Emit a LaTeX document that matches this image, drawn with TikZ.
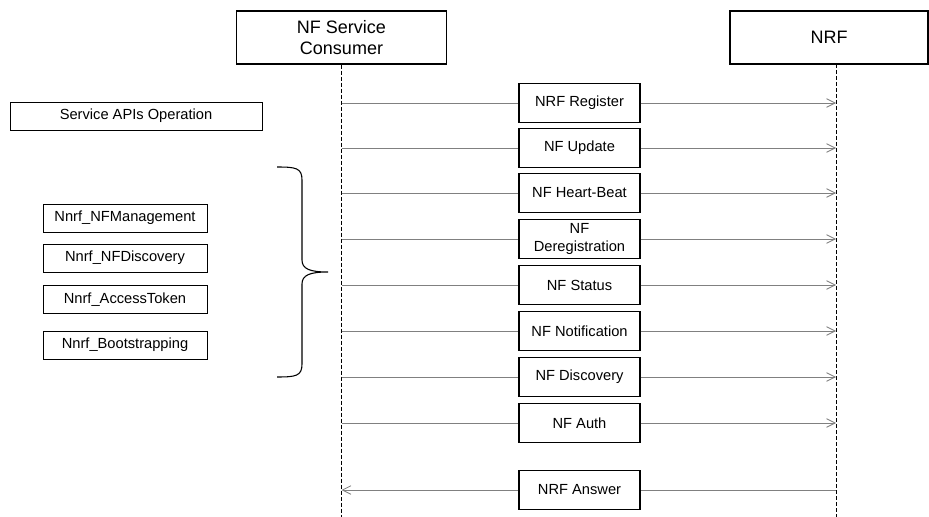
\documentclass[tikz,border=0pt]{standalone}
\usepackage{fontspec}
\setmainfont{Liberation Sans}
\usetikzlibrary{arrows.meta,positioning}

\begin{document}
\begin{tikzpicture}[x=0.75pt,y=-0.75pt,
    actor/.style={draw, line width=0.9pt, minimum width=158pt, minimum height=39.75pt,
      align=center, inner sep=2pt, font=\fontsize{13.5}{15.5}\selectfont},
    msgbox/.style={draw, line width=0.9pt, fill=white, minimum width=90.75pt, minimum height=29.5pt,
      align=center, inner sep=1pt, font=\fontsize{11}{13.5}\selectfont},
    apibox/.style={draw, line width=0.7pt, minimum width=123pt, minimum height=21pt,
      inner sep=1pt, font=\fontsize{11}{13}\selectfont},
    lifeline/.style={line width=0.7pt, dash pattern=on 3pt off 1.5pt},
    msg/.style={black!50, line width=0.6pt},
    msgarrow/.style={msg, -{Straight Barb[length=6.5pt,width=6.5pt]}}]
    \useasboundingbox (0,0) rectangle (929,517);

    % Actors
    \node[actor] (consumer) at (341.5,37.5) {NF Service\\Consumer};
    \node[actor, minimum width=148.5pt] (nrf) at (829,37.5) {NRF};
    \coordinate (nrftop) at (836,64);
    \coordinate (nrfbot) at (836,517);

    % Lifelines
    \draw[lifeline] (consumer.south) -- (consumer.south |- nrfbot);
    \draw[lifeline] (nrftop) -- (nrfbot);

    % Service operations
    \node[msgbox] (register) at (579.5,103) {NRF Register};
    \node[msgbox] (update) at (579.5,148) {NF Update};
    \node[msgbox] (heartbeat) at (579.5,193) {NF Heart-Beat};
    \node[msgbox] (dereg) at (579.5,239) {NF\\Deregistration};
    \node[msgbox] (status) at (579.5,285) {NF Status};
    \node[msgbox] (notif) at (579.5,331) {NF Notification};
    \node[msgbox] (discovery) at (579.5,377) {NF Discovery};
    \node[msgbox] (auth) at (579.5,423) {NF Auth};
    \node[msgbox] (answer) at (579.5,490) {NRF Answer};

    % Requests to the NRF
    \draw[msg] (register.west -| consumer.south) -- (register.west);
    \draw[msgarrow] (register.east) -- (register.east -| nrftop);
    \draw[msg] (update.west -| consumer.south) -- (update.west);
    \draw[msgarrow] (update.east) -- (update.east -| nrftop);
    \draw[msg] (heartbeat.west -| consumer.south) -- (heartbeat.west);
    \draw[msgarrow] (heartbeat.east) -- (heartbeat.east -| nrftop);
    \draw[msg] (dereg.west -| consumer.south) -- (dereg.west);
    \draw[msgarrow] (dereg.east) -- (dereg.east -| nrftop);
    \draw[msg] (status.west -| consumer.south) -- (status.west);
    \draw[msgarrow] (status.east) -- (status.east -| nrftop);
    \draw[msg] (notif.west -| consumer.south) -- (notif.west);
    \draw[msgarrow] (notif.east) -- (notif.east -| nrftop);
    \draw[msg] (discovery.west -| consumer.south) -- (discovery.west);
    \draw[msgarrow] (discovery.east) -- (discovery.east -| nrftop);
    \draw[msg] (auth.west -| consumer.south) -- (auth.west);
    \draw[msgarrow] (auth.east) -- (auth.east -| nrftop);

    % Answer back to the consumer
    \draw[msg] (answer.east -| nrftop) -- (answer.east);
    \draw[msgarrow] (answer.west) -- (answer.west -| consumer.south);

    % Service APIs
    \node[apibox, minimum width=189pt] (apiop) at (136,116) {Service APIs Operation};
    \node[apibox] (nfmgmt) at (125,218) {Nnrf\_NFManagement};
    \node[apibox] (nfdisc) at (125,258) {Nnrf\_NFDiscovery};
    \node[apibox] (token) at (125,299.5) {Nnrf\_AccessToken};
    \node[apibox] (boot) at (125,345) {Nnrf\_Bootstrapping};

    % Brace
    \draw[line width=0.8pt] (277,167) .. controls (296,167) and (302,168) .. (302,180)
      -- (302,260) .. controls (302,269) and (310,272) .. (328,272)
      .. controls (310,272) and (302,275) .. (302,284)
      -- (302,364) .. controls (302,376) and (296,377) .. (277,377);
\end{tikzpicture}
\end{document}
